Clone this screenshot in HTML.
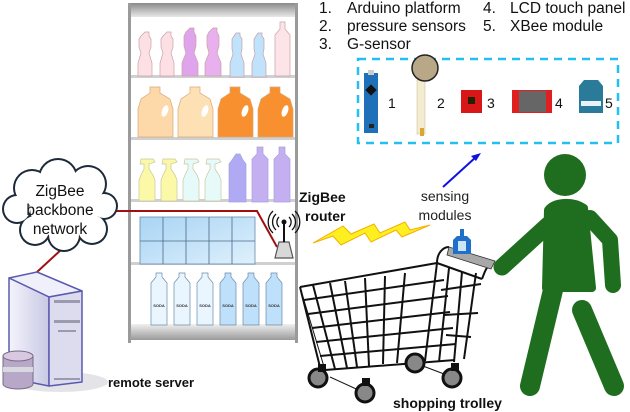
<!DOCTYPE html>
<html><head><meta charset="utf-8"><style>
html,body{margin:0;padding:0;background:#fff}
svg{display:block}
text{font-family:"Liberation Sans",Arial,sans-serif}
</style></head><body>
<svg width="630" height="412" viewBox="0 0 630 412" xmlns="http://www.w3.org/2000/svg">
<defs>
<linearGradient id="hdr" x1="0" y1="0" x2="0" y2="1"><stop offset="0" stop-color="#8a8a8a"/><stop offset="1" stop-color="#e8e8e8"/></linearGradient>
<linearGradient id="base" x1="0" y1="0" x2="0" y2="1"><stop offset="0" stop-color="#f0f0f0"/><stop offset="1" stop-color="#9a9a9a"/></linearGradient>
<linearGradient id="tile" x1="0" y1="0" x2="1" y2="1"><stop offset="0" stop-color="#a8d4f4"/><stop offset="1" stop-color="#dff0fc"/></linearGradient>
<linearGradient id="srv" x1="0" y1="0" x2="1" y2="0"><stop offset="0" stop-color="#f4f4fc"/><stop offset="1" stop-color="#c8c8e4"/></linearGradient>
</defs>

<!-- shelf -->
<rect x="128" y="3" width="3" height="340" fill="#9a9a9a"/>
<rect x="295" y="3" width="3" height="340" fill="#9a9a9a"/>
<rect x="131" y="3" width="164" height="14" fill="url(#hdr)"/>
<g fill="#d0d0d0"><rect x="131" y="75" width="164" height="3"/><rect x="131" y="137" width="164" height="3"/><rect x="131" y="199" width="164" height="3"/><rect x="131" y="262" width="164" height="3"/></g>
<rect x="131" y="324" width="164" height="16" fill="url(#base)"/>

<!-- row1 bottles -->
<g stroke="#c9a0a8" stroke-width="0.7">
<path d="M145 32h4v4l2 3v8l-2 6 3 10v13h-14v-13l3-10-2-6v-8l2-3z" fill="#fde0e4"/>
<path d="M167 32h4v4l2 3v8l-2 6 3 10v13h-14v-13l3-10-2-6v-8l2-3z" fill="#fde0e4"/>
<path d="M190 28h4v4l2 4v10l-2 7 4 10v13h-16v-13l4-10-2-7v-10l2-4z" fill="#e0a4ec"/>
<path d="M213 28h4v4l2 4v10l-2 7 4 10v13h-16v-13l4-10-2-7v-10l2-4z" fill="#e8b0ec"/>
<path d="M236 33h4v3l2 3v10l-1 5 3 9v14h-14v-14l3-9-1-5v-10l2-3z" fill="#c0e2fa"/>
<path d="M258 33h4v3l2 3v10l-1 5 3 9v14h-14v-14l3-9-1-5v-10l2-3z" fill="#c0e2fa"/>
<path d="M280 22h5v7l5 6v41h-15v-41l5-6z" fill="#fde4e8"/>
</g>
<!-- row2 jugs -->
<g stroke="#d8a878" stroke-width="0.7">
<path d="M150 87h10v6l10 6 3 10v28h-35v-28l3-10 9-6z" fill="#fdd8a8"/>
<path d="M190 87h10v6l10 6 3 10v28h-35v-28l3-10 9-6z" fill="#fde0b4"/>
<path d="M230 87h10v6l10 6 3 10v28h-35v-28l3-10 9-6z" fill="#f89030"/>
<path d="M270 87h10v6l10 6 3 10v28h-35v-28l3-10 9-6z" fill="#f89030"/>
</g>
<g fill="#fff"><ellipse cx="165" cy="111" rx="3" ry="6" transform="rotate(20 165 111)"/><ellipse cx="205" cy="111" rx="3" ry="6" transform="rotate(20 205 111)"/><ellipse cx="245" cy="111" rx="3" ry="6" transform="rotate(20 245 111)"/><ellipse cx="285" cy="111" rx="3" ry="6" transform="rotate(20 285 111)"/></g>
<!-- row3 -->
<g stroke="#c8c8a0" stroke-width="0.7">
<path d="M141 159h12l2 3-6 2v5l4 6 2 5v21h-16v-21l2-5 3-6v-5h-4z" fill="#fbf8a8"/>
<path d="M163 159h12l2 3-6 2v5l4 6 2 5v21h-16v-21l2-5 3-6v-5h-4z" fill="#fbf8a8"/>
<path d="M185 159h12l2 3-6 2v5l4 6 2 5v21h-16v-21l2-5 3-6v-5h-4z" fill="#e6fafa"/>
<path d="M207 159h12l2 3-6 2v5l4 6 2 5v21h-16v-21l2-5 3-6v-5h-4z" fill="#e6fafa"/>
</g>
<g fill="#b0aaf4" stroke="#a8a0e0" stroke-width="0.7">
<path d="M236 154h4l3 6 3 4v38h-17v-38l3-4z"/>
<path d="M257 147h6v7l5 5v43h-16v-43l5-5z" fill="#c4b0f0"/>
<path d="M279 147h6v7l5 5v43h-16v-43l5-5z" fill="#c4b0f0"/>
</g>
<!-- row4 tiles -->
<rect x="140" y="217" width="115" height="47" fill="url(#tile)" stroke="#6a8aa8" stroke-width="0.8"/>
<g stroke="#4a6a88" stroke-width="0.8"><line x1="163" y1="217" x2="163" y2="264"/><line x1="186" y1="217" x2="186" y2="264"/><line x1="209" y1="217" x2="209" y2="264"/><line x1="232" y1="217" x2="232" y2="264"/><line x1="140" y1="241" x2="255" y2="241"/></g>
<!-- row5 soda -->
<g stroke="#6a8aa8" stroke-width="0.7">
<g fill="#eaf6ff"><path d="M156 273h6v4l5 6v42h-16v-42l5-6z"/><path d="M179 273h6v4l5 6v42h-16v-42l5-6z"/><path d="M202 273h6v4l5 6v42h-16v-42l5-6z"/></g>
<g fill="#bfe0fb"><path d="M225 273h6v4l5 6v42h-16v-42l5-6z"/><path d="M248 273h6v4l5 6v42h-16v-42l5-6z"/><path d="M271 273h6v4l5 6v42h-16v-42l5-6z"/></g>
</g>
<g font-size="4" font-weight="bold" text-anchor="middle" fill="#333"><text x="159" y="307">SODA</text><text x="182" y="307">SODA</text><text x="205" y="307">SODA</text><text x="228" y="307">SODA</text><text x="251" y="307">SODA</text><text x="274" y="307">SODA</text></g>

<!-- red lines -->
<polyline points="110,211 257,211 277,247" fill="none" stroke="#a01010" stroke-width="2"/>
<line x1="63" y1="248" x2="37" y2="272" stroke="#a01010" stroke-width="2"/>

<!-- router -->
<path d="M279 242h10l4 16h-18z" fill="#d8d8d8" stroke="#555" stroke-width="1.2"/>
<line x1="284" y1="222" x2="284" y2="242" stroke="#111" stroke-width="2"/>
<circle cx="284" cy="222" r="2.5" fill="#111"/>
<g fill="none" stroke="#111" stroke-width="1.3"><path d="M279 217a7 7 0 0 0 0 10M289 217a7 7 0 0 1 0 10M276 214a11 11 0 0 0 0 16M292 214a11 11 0 0 1 0 16M273 211a15 15 0 0 0 0 22M295 211a15 15 0 0 1 0 22"/></g>

<!-- cloud -->
<g fill="#1c2a3a">
<circle cx="32" cy="188" r="19"/><circle cx="58" cy="178" r="20"/><circle cx="88" cy="184" r="19"/><circle cx="104" cy="206" r="14"/><circle cx="92" cy="229" r="16"/><circle cx="64" cy="235" r="17"/><circle cx="35" cy="230" r="16"/><circle cx="17" cy="209" r="15"/>
</g>
<g fill="#fff">
<circle cx="32" cy="188" r="17"/><circle cx="58" cy="178" r="18"/><circle cx="88" cy="184" r="17"/><circle cx="104" cy="206" r="12"/><circle cx="92" cy="229" r="14"/><circle cx="64" cy="235" r="15"/><circle cx="35" cy="230" r="14"/><circle cx="17" cy="209" r="13"/><circle cx="60" cy="207" r="30"/><circle cx="90" cy="207" r="12"/>
</g>
<g font-size="15.5" text-anchor="middle" fill="#111"><text x="60" y="196">ZigBee</text><text x="60" y="215">backbone</text><text x="60" y="234">network</text></g>

<!-- server -->
<ellipse cx="60" cy="382" rx="48" ry="10" fill="#e4e4e8"/>
<path d="M9 278l28-6 45 19-33 6z" fill="#f0f0fa" stroke="#5a5ab0" stroke-width="1.5" stroke-linejoin="round"/>
<path d="M9 278v100l40 8v-89z" fill="url(#srv)" stroke="#5a5ab0" stroke-width="1.5" stroke-linejoin="round"/>
<path d="M49 297l33-6v91l-33 4z" fill="#dcdcee" stroke="#5a5ab0" stroke-width="1.5" stroke-linejoin="round"/>
<g fill="#9a9ab0"><rect x="54" y="300" width="26" height="3"/><rect x="54" y="320" width="26" height="3"/><rect x="58" y="330" width="18" height="2"/><rect x="54" y="378" width="26" height="2"/></g>
<path d="M3 356v28a15 5 0 0 0 30 0v-28z" fill="#b8a8c8" stroke="#7a6a8a" stroke-width="1"/>
<ellipse cx="18" cy="356" rx="15" ry="5" fill="#d8c8e0" stroke="#7a6a8a" stroke-width="1"/>
<rect x="3" y="367" width="30" height="5" fill="#d8d8e0"/>
<text x="108" y="387" font-size="13" font-weight="bold" fill="#111">remote server</text>

<!-- router label -->
<g font-size="14" font-weight="bold" fill="#111"><text x="299" y="202">ZigBee</text><text x="305" y="221">router</text></g>
<!-- lightning -->
<path d="M313 243l30-17 8 8 23-10 6 9 25-11 5 8 20-5-28 12-6-7-25 12-6-9-24 12-8-9z" fill="#fef020" stroke="#f4b000" stroke-width="1"/>

<!-- sensing modules -->
<g font-size="14" text-anchor="middle" fill="#222"><text x="445" y="201">sensing</text><text x="445" y="220">modules</text></g>
<line x1="443" y1="187" x2="476" y2="157" stroke="#1010e0" stroke-width="2"/>
<path d="M481 153l-10 3 5 5z" fill="#1010e0"/>

<!-- list -->
<g font-size="15.5" fill="#111">
<text x="319" y="13">1.</text><text x="347" y="13">Arduino platform</text>
<text x="319" y="31">2.</text><text x="347" y="31">pressure sensors</text>
<text x="319" y="49">3.</text><text x="347" y="49">G-sensor</text>
<text x="483" y="13">4.</text><text x="510" y="13">LCD touch panel</text>
<text x="483" y="31">5.</text><text x="510" y="31">XBee module</text>
</g>
<rect x="358" y="59" width="260" height="84" fill="none" stroke="#22c0f0" stroke-width="2.5" stroke-dasharray="8,6"/>
<!-- components -->
<rect x="364" y="73" width="14" height="60" fill="#1e70b8"/>
<rect x="368" y="70" width="6" height="5" fill="#ccc"/>
<rect x="367" y="86" width="8" height="8" fill="#111" transform="rotate(45 371 90)"/>
<rect x="369" y="124" width="5" height="4" fill="#222"/>
<rect x="417" y="80" width="8" height="54" fill="#f4ecd0" stroke="#c8b890" stroke-width="0.5"/>
<circle cx="425" cy="68" r="13" fill="#b8a888" stroke="#222" stroke-width="1.5"/>
<rect x="420" y="128" width="4" height="8" fill="#d8a830"/>
<rect x="461" y="90" width="21" height="23" fill="#d81818"/><rect x="468" y="97" width="7" height="7" fill="#220"/>
<rect x="512" y="90" width="40" height="23" fill="#e02020"/><rect x="519" y="91" width="27" height="21" fill="#666"/>
<path d="M579 86l5-6h14l5 6v27h-24z" fill="#2a7a9a"/><rect x="581" y="101" width="20" height="5" fill="#e8f0f8"/>
<g font-size="14" fill="#111"><text x="388" y="108">1</text><text x="437" y="108">2</text><text x="487" y="108">3</text><text x="555" y="108">4</text><text x="605" y="108">5</text></g>

<!-- trolley -->
<g fill="none" stroke="#111" stroke-width="2">
<path d="M300 287l20 80M313 285l22 84M330 283l17 85M345 281l12 86M365 278l4 88M385 276l-2 88M405 273l-8 90"/>
<path d="M300 287l137-24M304 300l140-20M308 314l140-18M312 328l138-16M316 342l137-14M320 356l136-12M325 370l130-10"/>
<path d="M437 263l-12 98M449 268l-10 94M462 272l-8 90M476 273l-12 86"/>
<path d="M437 263l45 16M441 290l40-6M444 315l34-2M446 335l25 2"/>
<path d="M437 263c0-10 6-16 12-16"/>
<path d="M482 279c2-5 4-12 8-14"/>
</g>
<g stroke="#111" stroke-width="1" fill="none"><path d="M300 287l25 83 130-10M330 377l35 16M415 363l37 14"/></g>
<path d="M449 247l46 14-4 8-44-14z" fill="#a8a8a8" stroke="#333" stroke-width="0.8"/>
<g fill="#888" stroke="#111" stroke-width="3"><circle cx="318" cy="378" r="9"/><circle cx="365" cy="393" r="9"/><circle cx="415" cy="363" r="9"/><circle cx="452" cy="378" r="9"/></g>
<g fill="#111"><rect x="318" y="364" width="8" height="8"/><rect x="362" y="378" width="8" height="8"/><rect x="451" y="363" width="8" height="8"/></g>
<!-- xbee on trolley -->
<rect x="460" y="229" width="4" height="8" fill="#1e70c8"/>
<path d="M453 240l4-4h10l4 4v14h-18z" fill="#1e70c8"/><rect x="458" y="241" width="8" height="10" fill="#cfe4f8"/>

<!-- person -->
<g fill="#1f6e1f" stroke="#1f6e1f" stroke-linecap="round" stroke-linejoin="round">
<circle cx="565" cy="175" r="21" stroke="none"/>
<path d="M548 210c6-8 24-10 36-2l8 80h-46z" stroke-width="8"/>
<path d="M548 225l-46 42" stroke-width="17" fill="none"/>
<path d="M590 218l20 22 3 45" stroke-width="16" fill="none"/>
<path d="M553 290l-23 96" stroke-width="20" fill="none"/>
<path d="M582 310l32 76" stroke-width="20" fill="none"/>
</g>
<text x="393" y="408" font-size="14" font-weight="bold" fill="#111">shopping trolley</text>
</svg>
</body></html>
